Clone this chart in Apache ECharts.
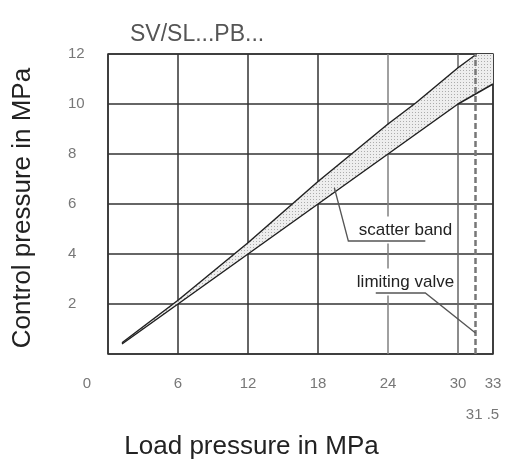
<!DOCTYPE html>
<html>
<head>
<meta charset="utf-8">
<script src="https://cdn.jsdelivr.net/npm/echarts@6/dist/echarts.min.js"></script>
<style>
  html, body { margin: 0; padding: 0; background: #fff; }
  #chart { width: 506px; height: 461px; }
</style>
</head>
<body>
<div id="chart"></div>
<script>
// ---- data ----
const chartTitle = 'SV/SL...PB...';
const xName = 'Load pressure in MPa';
const yName = 'Control pressure in MPa';
const xMin = 0, xMax = 33, xStep = 6;
const yMin = 0, yMax = 12, yStep = 2;
const lowerX = [1.2, 6, 12, 18, 24, 30, 33];
const lowerY = [0.4, 2, 4, 6, 8, 10, 10.8];
const upperX = [1.2, 6, 12, 18, 24, 26.4, 30, 31.6];
const upperY = [0.45, 2.15, 4.45, 6.9, 9.2, 10.05, 11.45, 12];
const limitX = 31.5;
const limitLabel = '31 .5';
const bandLabel = 'scatter band';
const limitValveLabel = 'limiting valve';
// annotation anchors (data coords)
const bandText = [25.5, 4.96];
const bandLeader = [[19.4, 6.65], [20.6, 4.52], [27.2, 4.52]];
const valveText = [25.5, 2.88];
const valveLeader = [[22.95, 2.44], [27.2, 2.44], [31.5, 0.84]];

const zip = (xs, ys) => xs.map((x, i) => [x, ys[i]]);

// dotted texture for the band
const pat = document.createElement('canvas');
pat.width = 3; pat.height = 3;
(function () {
  const c = pat.getContext('2d');
  c.fillStyle = '#eeeeee'; c.fillRect(0, 0, 3, 3);
  c.fillStyle = '#acacac'; c.fillRect(1, 1, 1, 1);
})();

const chart = echarts.init(document.getElementById('chart'), null, { renderer: 'canvas' });
const FONT = '"Liberation Sans", Arial, sans-serif';

chart.setOption({
  animation: false,
  backgroundColor: '#fff',
  title: {
    text: chartTitle, left: 125, top: 18,
    textStyle: { fontFamily: FONT, fontSize: 23, fontWeight: 'normal', color: '#555' }
  },
  grid: { left: 108, right: 13, top: 54, bottom: 107, outerBoundsMode: 'none', containLabel: false, show: true, borderColor: '#333', borderWidth: 1.5, backgroundColor: 'transparent' },
  xAxis: {
    type: 'value', min: xMin, max: xMax, interval: xStep,
    name: xName, nameLocation: 'middle', nameGap: 80,
    nameTextStyle: { fontFamily: FONT, fontSize: 26, color: '#222', padding: [0, 98, 0, 0] },
    axisLine: { show: false }, axisTick: { show: false },
    axisLabel: {
      margin: 22, fontFamily: FONT, fontSize: 15, color: '#777',
      formatter: v => v === 0 ? '{z|0}' : String(v),
      rich: { z: { fontFamily: FONT, fontSize: 15, color: '#777', padding: [0, 42, 0, 0] } }
    },
    splitLine: { show: true, lineStyle: { color: ['#333', '#333', '#333', '#333', '#808080', '#666', '#333'], width: 1.5 } }
  },
  yAxis: {
    type: 'value', min: yMin, max: yMax, interval: yStep,
    name: yName, nameLocation: 'middle', nameGap: 72, nameRotate: 90,
    nameTextStyle: { fontFamily: FONT, fontSize: 26, color: '#222', padding: [0, 8, 0, 0] },
    axisLine: { show: false }, axisTick: { show: false },
    axisLabel: {
      margin: 40, align: 'left', fontFamily: FONT, fontSize: 15, color: '#777',
      formatter: v => v === 0 ? '' : String(v)
    },
    splitLine: { show: true, lineStyle: { color: '#333', width: 1.5 } }
  },
  series: [
    {
      type: 'custom', name: 'band', silent: true, z: 2,
      data: [[0, 0]],
      renderItem: function (params, api) {
        if (params.dataIndex !== 0) return;
        const pts = [];
        for (let i = 0; i < upperX.length; i++) pts.push(api.coord([upperX[i], upperY[i]]));
        pts.push(api.coord([xMax, yMax]));
        for (let i = lowerX.length - 1; i >= 0; i--) pts.push(api.coord([lowerX[i], lowerY[i]]));
        return { type: 'polygon', shape: { points: pts }, style: { fill: { image: pat, repeat: 'repeat' }, stroke: null } };
      }
    },
    {
      type: 'line', name: 'lower', data: zip(lowerX, lowerY), showSymbol: false, z: 3,
      lineStyle: { color: '#222', width: 1.5 },
      markLine: {
        silent: true, symbol: ['none', 'none'], label: { show: false },
        lineStyle: { color: '#777', width: 2.5, type: [6, 3] },
        data: [{ xAxis: limitX }]
      }
    },
    {
      type: 'line', name: 'upper', data: zip(upperX, upperY), showSymbol: false, z: 3,
      lineStyle: { color: '#222', width: 1.5 }
    }
  ]
});

const px = p => chart.convertToPixel({ gridIndex: 0 }, p);
const limPx = chart.convertToPixel({ xAxisIndex: 0 }, limitX);
const gridBottom = 461 - 107;
const txtStyle = { fontFamily: FONT, fontSize: 17, fill: '#222', align: 'center', verticalAlign: 'middle', backgroundColor: '#fff', padding: [5, 2] };
const bt = px(bandText), vt = px(valveText);
chart.setOption({
  graphic: [
    { type: 'text', x: bt[0], y: bt[1], z: 10, style: Object.assign({ text: bandLabel }, txtStyle) },
    { type: 'text', x: vt[0], y: vt[1], z: 10, style: Object.assign({ text: limitValveLabel }, txtStyle) },
    { type: 'polyline', z: 11, shape: { points: bandLeader.map(px) }, style: { stroke: '#555', lineWidth: 1.3, fill: null } },
    { type: 'polyline', z: 11, shape: { points: valveLeader.map(px) }, style: { stroke: '#555', lineWidth: 1.3, fill: null } },
    { type: 'text', x: limPx + 7, y: gridBottom + 61, z: 10, style: { text: limitLabel, fontFamily: FONT, fontSize: 15, fill: '#777', align: 'center', verticalAlign: 'middle' } }
  ]
});
</script>
</body>
</html>
